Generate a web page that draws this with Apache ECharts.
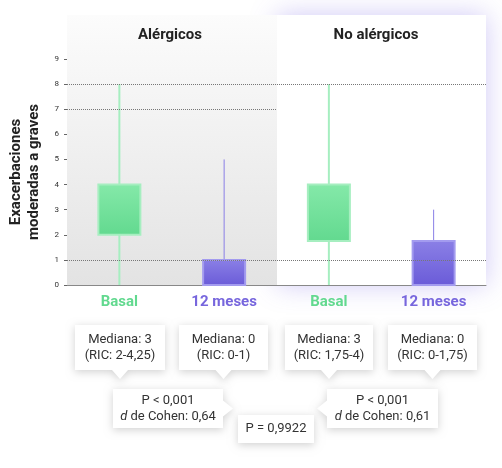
<!DOCTYPE html><html><head><meta charset="utf-8"><script src="https://cdn.jsdelivr.net/npm/echarts@6/dist/echarts.min.js"></script>
<style>html,body{margin:0;background:#fff}#c{width:502px;height:468px}</style></head><body><div id="c"></div><script>
const categories=['Basal','12 meses','Basal ','12 meses '];
const boxData=[[0,2,3,4,8],[0,0,0,1,5],[0,1.75,3,4,8],[0,0,0,1.75,3]];
const groups=['Alérgicos','No alérgicos'];
const notes=[['Mediana: 3','(RIC: 2-4,25)'],['Mediana: 0','(RIC: 0-1)'],['Mediana: 3','(RIC: 1,75-4)'],['Mediana: 0','(RIC: 0-1,75)']];
const tests=[['P < 0,001','{i|d} de Cohen: 0,64'],['P < 0,001','{i|d} de Cohen: 0,61'],['P = 0,9922']];
const F='Roboto, sans-serif';
const green={type:'linear',x:0,y:0,x2:0,y2:1,colorStops:[{offset:0,color:'#85e9a9'},{offset:1,color:'#62d98f'}]};
const purple={type:'linear',x:0,y:0,x2:0,y2:1,colorStops:[{offset:0,color:'#8b80e6'},{offset:1,color:'#6a5bd8'}]};
function bubble(x,y,w,h,lines,ptr){
  const g={type:'group',children:[]};
  const pts=[[x,y],[x+w,y],[x+w,y+h],[x,y+h]];
  if(ptr==='down'){const cx=x+w/2;pts.splice(3,0,[cx+8,y+h],[cx,y+h+9],[cx-8,y+h]);}
  if(ptr==='right'){const cy=y+h/2;pts.splice(2,0,[x+w,cy-8],[x+w+10,cy],[x+w,cy+8]);}
  if(ptr==='left'){const cy=y+h/2;pts.push([x,cy+8],[x-10,cy],[x,cy-8]);}
  g.children.push({type:'polygon',shape:{points:pts},style:{fill:'#fff',shadowBlur:8,shadowColor:'rgba(0,0,0,0.18)',shadowOffsetY:2},z:5});
  g.children.push({type:'text',x:x+w/2,y:y+h/2,z:6,style:{text:lines.join('\n'),align:'center',verticalAlign:'middle',font:'13px '+F,fill:'#333',lineHeight:16,rich:{i:{fontStyle:'italic',fontSize:13,fontFamily:F,fill:'#333'}}}});
  return g;
}
const chart=echarts.init(document.getElementById('c'));
chart.setOption({
  animation:false,
  grid:{left:67,right:16,top:59,bottom:183},
  xAxis:{type:'category',data:categories,axisLine:{lineStyle:{color:'#888'}},axisTick:{show:false},
    axisLabel:{margin:10,formatter:(v,i)=>'{'+(i%2?'p':'g')+'|'+v.trim()+'}',rich:{g:{color:'#62d98f',fontWeight:'bold',fontSize:15,fontFamily:F},p:{color:'#7766dd',fontWeight:'bold',fontSize:15,fontFamily:F}}}},
  yAxis:{type:'value',min:0,max:9,interval:1,axisLine:{show:false},axisTick:{show:true,length:3,lineStyle:{color:'#666'}},splitLine:{show:false},
    axisLabel:{fontSize:8,color:'#333',margin:8,fontFamily:F}},
  series:[{type:'custom',z:3,
    data:boxData.map((d,i)=>[i].concat(d)),
    encode:{x:0,y:[1,2,3,4,5]},
    renderItem:(params,api)=>{
      const i=api.value(0);
      const lo=api.coord([i,api.value(1)]),q1=api.coord([i,api.value(2)]),q3=api.coord([i,api.value(4)]),hi=api.coord([i,api.value(5)]);
      const p=i%2;
      return {type:'group',children:[
        {type:'line',shape:{x1:lo[0],y1:lo[1],x2:hi[0],y2:hi[1]},style:{stroke:p?'#8a7fe6':'#a6eec0',lineWidth:p?1:2}},
        {type:'rect',shape:{x:q1[0]-21,y:q3[1],width:42,height:q1[1]-q3[1]},style:{fill:p?purple:green,stroke:p?'#a39bef':'#a6eec0',lineWidth:2}}
      ]};
    },
    markLine:{silent:true,symbol:'none',label:{show:false},lineStyle:{type:'dotted',color:'#777',width:1},
      data:[[{x:67,yAxis:8},{x:486,yAxis:8}],[{x:67,yAxis:1},{x:486,yAxis:1}],[{x:67,yAxis:7},{x:277,yAxis:7}]]}}],
  graphic:[
    {type:'rect',z:-10,shape:{x:277,y:15,width:209,height:270},style:{fill:'#fff',shadowBlur:25,shadowColor:'rgba(120,100,230,0.35)'}},
    {type:'rect',z:-9,shape:{x:67,y:15,width:210,height:270},style:{fill:{type:'linear',x:0,y:0,x2:0,y2:1,colorStops:[{offset:0,color:'#fcfcfc'},{offset:1,color:'#e3e3e3'}]}}},
    {type:'text',x:170,y:35,style:{text:groups[0],align:'center',verticalAlign:'middle',font:'bold 15px '+F,fill:'#222'}},
    {type:'text',x:376,y:35,style:{text:groups[1],align:'center',verticalAlign:'middle',font:'bold 15px '+F,fill:'#222'}},
    {type:'text',x:25,y:172,rotation:Math.PI/2,style:{text:'Exacerbaciones\nmoderadas a graves',align:'center',verticalAlign:'middle',font:'bold 15px '+F,fill:'#222',lineHeight:18}},
    bubble(75,325,90,45,notes[0],'down'),
    bubble(179,325,89,45,notes[1],'down'),
    bubble(285,325,88,45,notes[2],'down'),
    bubble(388,325,89,45,notes[3],'down'),
    bubble(113,389,110,39,tests[0],'right'),
    bubble(327,389,111,39,tests[1],'left'),
    bubble(238,415,76,28,tests[2],null)
  ]
});
</script></body></html>
